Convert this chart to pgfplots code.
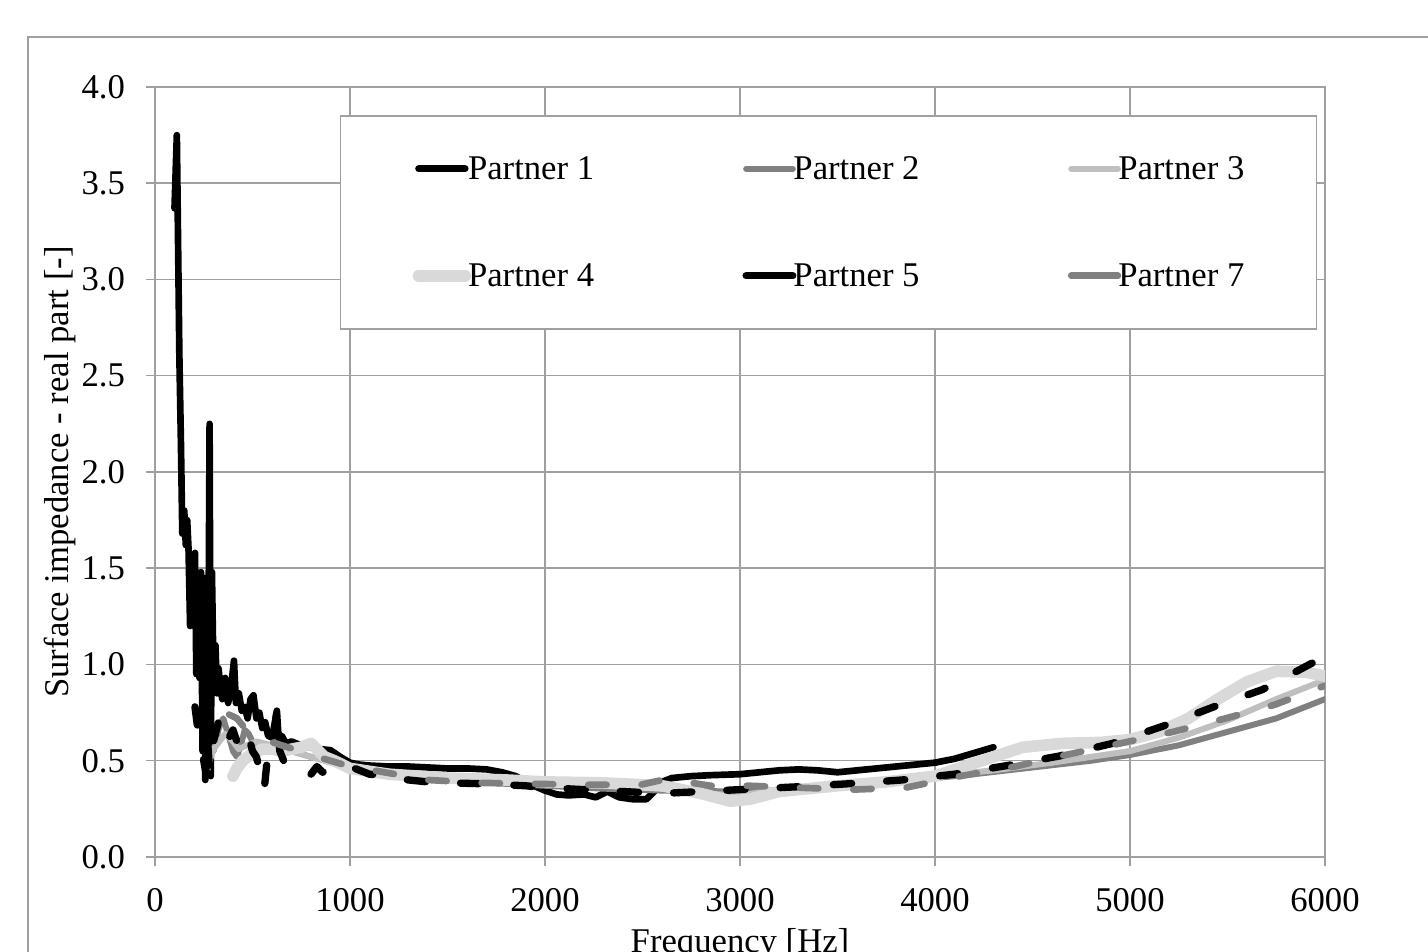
\documentclass[border=0pt]{standalone}
\usepackage{fontspec}
\setmainfont{Liberation Serif}
\usepackage{pgfplots}
\pgfplotsset{compat=1.18}
\definecolor{gridc}{RGB}{160,160,160}
\definecolor{pA}{RGB}{128,128,128}
\definecolor{pB}{RGB}{191,191,191}
\definecolor{pC}{RGB}{217,217,217}
\begin{document}
\begin{tikzpicture}[font=\fontsize{10.4}{12.5}\selectfont]
\path[use as bounding box] (-46.5pt,-28.5pt) rectangle (381.9pt,257.1pt);
\begin{scope}
\clip (-46.5pt,-28.5pt) rectangle (381.9pt,257.1pt);
\draw[gridc, line width=0.45pt] (-38.1pt,-60pt) rectangle (420pt,246pt);
\end{scope}
\begin{axis}[
  at={(0pt,0pt)}, anchor=south west,
  scale only axis, width=351pt, height=231pt,
  xmin=0, xmax=6000, ymin=0, ymax=4,
  xtick={0,1000,2000,3000,4000,5000,6000},
  ytick={0,0.5,1,1.5,2,2.5,3,3.5,4},
  /pgf/number format/assume math mode=true,
  xticklabel style={/pgf/number format/1000 sep={}, inner sep=0pt, anchor=north},
  yticklabel style={/pgf/number format/fixed, /pgf/number format/fixed zerofill, /pgf/number format/precision=1, inner sep=0pt, anchor=east},
  xticklabel shift=6.5pt, yticklabel shift=6pt,
  tick align=outside, xtick pos=bottom, ytick pos=left,
  major tick length=2.8pt,
  grid=major,
  major grid style={gridc, line width=0.45pt},
  axis line style={gridc, line width=0.45pt},
  major tick style={gridc, line width=0.45pt},
  xlabel={Frequency [Hz]},
  ylabel={Surface impedance - real part [-]},
  every axis x label/.style={at={(axis description cs:0.5,0)}, anchor=base, yshift=-28.8pt},
  every axis y label/.style={at={(axis description cs:0,0.5)}, rotate=90, anchor=center, yshift=28.5pt},
  legend columns=3,
  legend cell align=left,
  legend image code/.code={\draw[#1,solid,line cap=round] (0pt,0pt) -- (14pt,0pt);},
  legend style={
    at={(0.1581,0.9636)}, anchor=north west,
    draw=gridc, line width=0.45pt, fill=white,
    inner xsep=21.6pt, inner ysep=12pt,
    row sep=24.3pt,
    nodes={inner sep=0pt, text height=7pt, text depth=0.8pt},
    /tikz/every odd column/.append style={column sep=-0.9pt},
    /tikz/every even column/.append style={column sep=44.5pt},
  },
  no markers,
  every axis plot/.append style={line join=round, line cap=round},
]
% Partner 1
\addplot[black, line width=2pt] coordinates {
(100,3.37)(112,3.75)(125,2.60)(133,2.15)(140,1.68)(150,1.80)(158,1.62)(165,1.75)(172,1.60)(180,1.20)
(188,1.55)(195,1.40)(205,1.58)(212,0.95)(220,1.40)(228,0.93)(236,1.48)(244,0.55)(250,1.45)(258,0.40)
(265,1.25)(272,0.70)(280,2.25)(286,0.42)(292,1.48)(300,0.95)(310,1.10)(318,0.85)(326,0.98)(335,0.88)
(345,0.82)(360,0.93)(375,0.80)(390,0.88)(405,1.02)(415,0.80)(430,0.85)(445,0.76)(460,0.78)(475,0.72)
(490,0.82)(505,0.84)(520,0.72)(535,0.75)(550,0.67)(565,0.70)(580,0.63)(600,0.62)(615,0.70)(625,0.76)
(635,0.60)(650,0.63)(670,0.59)(700,0.60)(750,0.58)(800,0.57)(850,0.56)(900,0.555)(950,0.52)(1000,0.49)
(1050,0.48)(1100,0.475)(1200,0.47)(1300,0.47)(1400,0.465)(1500,0.46)(1600,0.46)(1700,0.455)(1780,0.44)
(1850,0.42)(1920,0.38)(2000,0.345)(2060,0.325)(2120,0.32)(2200,0.325)(2260,0.31)(2320,0.34)(2380,0.31)
(2450,0.30)(2520,0.30)(2560,0.34)(2600,0.39)(2650,0.41)(2750,0.42)(2850,0.425)(3000,0.43)(3100,0.44)
(3200,0.45)(3300,0.455)(3400,0.45)(3500,0.44)(3600,0.45)(3700,0.46)(3800,0.47)(3900,0.48)(4000,0.49)
(4100,0.51)(4200,0.54)(4300,0.57)
};
\addlegendentry{Partner 1}
% Partner 2
\addplot[pA, line width=1.8pt] coordinates {
(300,0.55)(330,0.68)(350,0.72)(380,0.62)(400,0.55)(420,0.52)(440,0.58)(460,0.66)(480,0.64)(500,0.60)
(550,0.58)(600,0.58)(700,0.55)(800,0.52)(900,0.50)(1000,0.47)(1200,0.44)(1500,0.40)(1800,0.38)(2000,0.37)
(2300,0.355)(2600,0.345)(3000,0.34)(3300,0.35)(3600,0.37)(3900,0.40)(4200,0.43)(4500,0.465)(4800,0.50)
(5000,0.53)(5250,0.58)(5500,0.65)(5750,0.72)(6000,0.82)
};
\addlegendentry{Partner 2}
% Partner 3
\addplot[pB, line width=1.8pt] coordinates {
(265,0.44)(280,0.50)(300,0.56)(330,0.60)(360,0.64)(400,0.60)(430,0.56)(470,0.58)(520,0.60)(600,0.58)
(700,0.55)(800,0.52)(900,0.49)(1000,0.46)(1200,0.43)(1500,0.41)(1800,0.39)(2000,0.38)(2300,0.37)
(2600,0.355)(2800,0.33)(3000,0.32)(3200,0.35)(3500,0.38)(3800,0.40)(4000,0.42)(4300,0.45)(4600,0.49)
(5000,0.55)(5250,0.62)(5500,0.71)(5750,0.82)(6000,0.92)
};
\addlegendentry{Partner 3}
% Partner 4
\addplot[pC, line width=3.5pt] coordinates {
(400,0.42)(420,0.46)(450,0.50)(500,0.54)(550,0.56)(600,0.56)(650,0.55)(700,0.56)(750,0.57)(800,0.59)
(830,0.56)(870,0.52)(920,0.50)(1000,0.46)(1200,0.43)(1500,0.41)(1800,0.40)(2000,0.39)(2300,0.385)
(2600,0.37)(2800,0.33)(2950,0.29)(3050,0.30)(3200,0.34)(3500,0.37)(3750,0.39)(4000,0.42)(4150,0.47)
(4300,0.52)(4450,0.57)(4650,0.59)(4850,0.595)(5000,0.61)(5150,0.65)(5300,0.72)(5450,0.82)(5600,0.91)
(5750,0.965)(5900,0.96)(6000,0.94)
};
\addlegendentry{Partner 4}
% Partner 5
\addplot[black, line width=2.2pt, dash pattern=on 5.5pt off 10.5pt] coordinates {
(205,0.78)(220,0.66)(235,0.60)(250,0.50)(262,0.43)(270,0.60)(280,0.45)(290,0.50)(300,0.60)(315,0.66)
(330,0.72)(345,0.68)(360,0.70)(380,0.62)(400,0.66)(420,0.60)(440,0.62)(460,0.58)(480,0.63)(500,0.55)
(520,0.52)(545,0.42)(560,0.35)(575,0.50)(600,0.55)(625,0.76)(640,0.55)(660,0.50)(690,0.52)(720,0.50)
(760,0.46)(800,0.43)(830,0.47)(860,0.44)(900,0.47)(950,0.48)(1000,0.47)(1100,0.43)(1200,0.42)(1300,0.40)
(1400,0.39)(1500,0.385)(1700,0.38)(1900,0.37)(2000,0.36)(2200,0.35)(2400,0.34)(2600,0.33)(2800,0.34)
(3000,0.35)(3300,0.365)(3550,0.38)(3830,0.40)(4100,0.43)(4370,0.475)(4640,0.525)(4910,0.59)(5170,0.68)
(5430,0.78)(5680,0.87)(5920,1.00)(6000,1.04)
};
\addlegendentry{Partner 5}
% Partner 7
\addplot[pA, line width=2pt, dash pattern=on 5.5pt off 10.5pt] coordinates {
(380,0.74)(420,0.72)(460,0.67)(500,0.64)(560,0.61)(620,0.59)(680,0.57)(750,0.55)(800,0.53)(900,0.50)
(1000,0.47)(1120,0.45)(1400,0.40)(1670,0.385)(1940,0.38)(2220,0.375)(2490,0.375)(2600,0.40)(2650,0.41)
(2720,0.39)(2850,0.37)(3050,0.37)(3300,0.36)(3580,0.35)(3850,0.36)(4130,0.42)(4410,0.47)(4670,0.53)
(4950,0.59)(5220,0.65)(5490,0.72)(5740,0.79)(6000,0.89)
};
\addlegendentry{Partner 7}
\end{axis}
\end{tikzpicture}
\end{document}
